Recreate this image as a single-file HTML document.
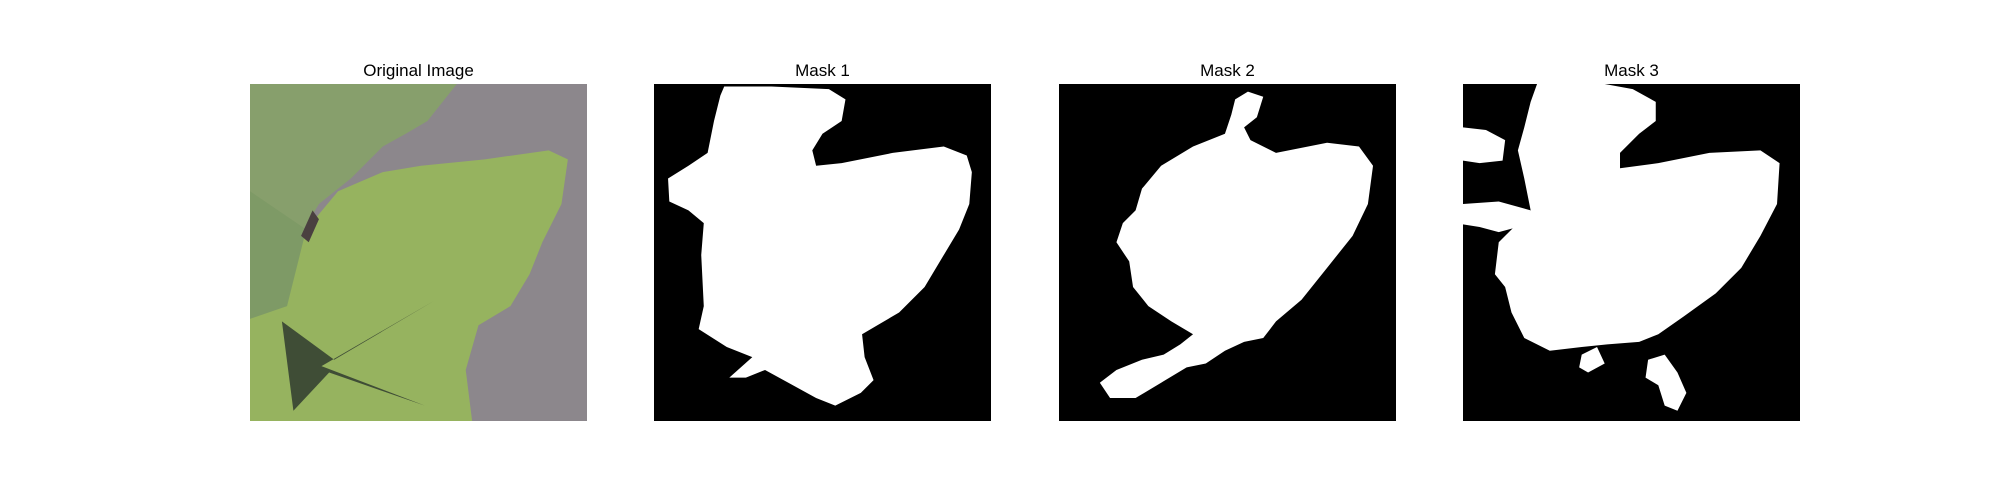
<!DOCTYPE html>
<html><head><meta charset="utf-8"><style>
body{margin:0;background:#fff;width:2000px;height:500px;overflow:hidden;font-family:"Liberation Sans","DejaVu Sans",sans-serif}
.t{position:absolute;top:61px;width:337px;text-align:center;font-size:17px;color:#000}
svg{position:absolute;top:84px;width:337px;height:337px}
</style></head><body>
<div class="t" style="left:250px">Original Image</div>
<div class="t" style="left:654px">Mask 1</div>
<div class="t" style="left:1059px">Mask 2</div>
<div class="t" style="left:1463px">Mask 3</div>

<svg style="left:250px" viewBox="196 66 264 264" preserveAspectRatio="none">
<rect x="196" y="66" width="264" height="264" fill="#8c878c"/>
<polygon fill="#879f6c" points="196,66 358,66 335,95 318,105 300,115 275,140 250,160 235,185 196,205"/>
<polygon fill="#96b35f" points="240,180 265,150 300,135 330,130 380,125 430,118 445,125 440,160 425,190 415,215 400,240 375,255 365,290 370,330 196,330 196,200"/>
<polygon fill="#7e9a66" points="196,150 240,180 225,240 196,250"/>
<polygon fill="#3f4d36" points="221,252 230,322 258,292 333,318 252,287 340,236 262,282"/>
<polygon fill="#4a4040" points="236,185 245,165 250,172 242,190"/>
</svg>

<svg style="left:654px" viewBox="513 66 264 264" preserveAspectRatio="none">
<rect x="513" y="66" width="264" height="264" fill="#000"/>
<polygon fill="#fff" points="568,68 605,68 650,70 663,78 660,95 645,105 637,118 640,130 660,128 700,120 740,115 758,122 762,135 760,160 752,180 740,200 725,225 705,245 688,255 676,262 678,280 685,298 675,308 655,318 640,312 600,290 585,296 572,296 590,280 570,272 548,258 552,240 550,200 552,175 540,165 525,158 524,140 540,130 555,120 560,95 565,75"/>
</svg>

<svg style="left:1059px" viewBox="830 66 264 264" preserveAspectRatio="none">
<rect x="830" y="66" width="264" height="264" fill="#000"/>
<polygon fill="#fff" points="978,72 990,76 985,92 975,100 980,110 1000,120 1040,112 1065,115 1076,130 1072,160 1060,185 1040,210 1020,235 1000,252 990,265 975,268 960,275 945,285 930,288 910,300 890,312 870,312 862,300 875,290 895,282 912,278 925,270 935,262 918,252 900,240 888,225 885,205 875,190 880,175 890,165 895,148 910,130 935,115 960,105 965,90 968,78"/>
</svg>

<svg style="left:1463px" viewBox="1147 66 264 264" preserveAspectRatio="none">
<rect x="1147" y="66" width="264" height="264" fill="#000"/>
<polygon fill="#fff" points="1205,66 1258,66 1280,70 1298,80 1298,95 1285,105 1270,120 1270,132 1300,128 1340,120 1380,118 1395,128 1393,160 1380,185 1365,210 1345,230 1320,248 1300,262 1285,268 1260,270 1240,272 1215,275 1195,265 1185,245 1180,225 1172,215 1175,190 1190,175 1200,165 1195,140 1190,118 1195,100 1200,80"/>
<polygon fill="#fff" points="1147,160 1175,158 1200,165 1190,178 1175,182 1160,178 1147,176"/>
<polygon fill="#fff" points="1147,100 1165,102 1180,110 1178,126 1160,128 1147,126"/>
<polygon fill="#fff" points="1240,278 1252,272 1258,285 1245,292 1238,288"/>
<polygon fill="#fff" points="1292,282 1305,278 1315,292 1322,308 1315,322 1305,318 1300,302 1290,296"/>
</svg>
</body></html>
